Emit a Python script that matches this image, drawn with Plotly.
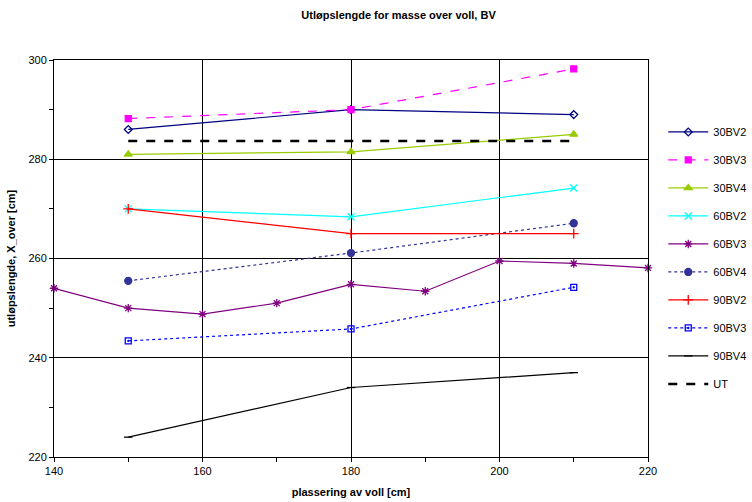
import plotly.graph_objects as go

x3 = [150, 180, 210]
x_60bv3 = [140, 150, 160, 170, 180, 190, 200, 210, 220]

s30bv2 = [286, 290, 289]
s30bv3 = [288.2, 290, 298.2]
s30bv4 = [281, 281.5, 285]
s60bv2 = [270, 268.4, 274.2]
s60bv3 = [254, 250, 248.8, 251, 254.8, 253.4, 259.5, 259, 258.1]
s60bv4 = [255.5, 261.1, 267.1]
s90bv2 = [270, 265, 265]
s90bv3 = [243.4, 245.8, 254.2]
s90bv4 = [224, 234, 237]
ut = [283.7, 283.7]
x_ut = [150, 210]

series = [
    ("30BV2", x3, s30bv2, "#000080", "solid", 1.2, "diamond-open", 6),
    ("30BV3", x3, s30bv3, "#FF00FF", "dash", 1.2, "square", 6),
    ("30BV4", x3, s30bv4, "#99CC00", "solid", 1.2, "triangle-up", 7),
    ("60BV2", x3, s60bv2, "#00FFFF", "solid", 1.2, "x-thin-open", 7),
    ("60BV3", x_60bv3, s60bv3, "#800080", "solid", 1.2, "asterisk-open", 7),
    ("60BV4", x3, s60bv4, "#333399", "dot", 1.2, "circle", 7),
    ("90BV2", x3, s90bv2, "#FF0000", "solid", 1.2, "cross-thin-open", 7),
    ("90BV3", x3, s90bv3, "#0000FF", "dot", 1.2, "square-open-dot", 6),
    ("90BV4", x3, s90bv4, "#000000", "solid", 1.2, "line-ew-open", 6),
]

fig = go.Figure()
for i, (name, xs, ys, col, dash, w, sym, sz) in enumerate(series):
    fig.add_trace(go.Scatter(
        x=xs, y=ys, name=name, mode="lines+markers",
        line=dict(color=col, dash=dash, width=w),
        marker=dict(symbol=sym, size=sz, color=col, line=dict(color=col, width=1.3)),
        cliponaxis=False, legendgroup=name,
    ))
fig.add_trace(go.Scatter(
    x=x_ut, y=ut, name="UT", mode="lines",
    line=dict(color="#000000", dash="dash", width=2.5), legendgroup="UT",
))

axis_common = dict(
    showline=True, linecolor="black", linewidth=1, mirror=True,
    showgrid=True, gridcolor="black", gridwidth=1, zeroline=False,
    ticks="outside", ticklen=4, tickcolor="black", automargin=False,
    tickfont=dict(family="Liberation Sans, Arial", size=11, color="black"),
)

fig.update_layout(
    width=752, height=502,
    paper_bgcolor="white", plot_bgcolor="white",
    margin=dict(l=54, r=104, t=60, b=45),
    title=dict(text="<b>Utløpslengde for masse over voll, BV</b>",
               x=0.53, xanchor="center", y=0.97, yanchor="middle", automargin=False,
               font=dict(family="Liberation Sans, Arial", size=11, color="black")),
    xaxis=dict(range=[140, 220], dtick=20, tick0=140,
               minor=dict(dtick=10, ticks="outside", ticklen=4, tickcolor="black", showgrid=False),
               title=dict(text="<b>plassering av voll [cm]</b>", standoff=12,
                          font=dict(family="Liberation Sans, Arial", size=11, color="black")),
               **axis_common),
    yaxis=dict(range=[220, 300], dtick=20, tick0=220,
               minor=dict(dtick=10, ticks="outside", ticklen=4, tickcolor="black", showgrid=False),
               title=dict(text="<b>utløpslengde, X_over [cm]</b>", standoff=10,
                          font=dict(family="Liberation Sans, Arial", size=11, color="black")),
               **axis_common),
    legend=dict(xref="container", yref="container", x=0.882, y=0.766,
                xanchor="left", yanchor="top", maxheight=420,
                font=dict(family="Liberation Sans, Arial", size=11, color="black"),
                tracegroupgap=9, itemwidth=40, bgcolor="rgba(0,0,0,0)"),
)

fig.write_html("out.html", config={"displayModeBar": False},
               post_script="document.body.style.margin='0';")
